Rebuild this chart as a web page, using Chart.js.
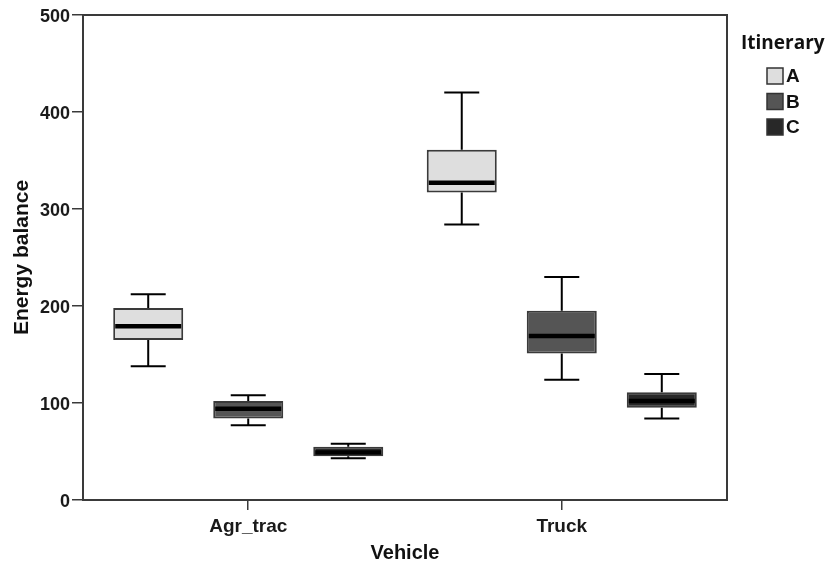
<!DOCTYPE html>
<html>
<head>
<meta charset="utf-8">
<script src="https://cdn.jsdelivr.net/npm/chart.js@4/dist/chart.umd.min.js"></script>
<style>
  html, body { margin: 0; padding: 0; background: #ffffff; }
  #wrap { width: 830px; height: 568px; position: relative; }
</style>
</head>
<body>
<div id="wrap"><canvas id="chart"></canvas></div>
<script>
// Categories and groups
const vehicles = ['Agr_trac', 'Truck'];
const itineraries = ['A', 'B', 'C'];

// Five-number summaries of energy balance, one value per vehicle
const minA = [138, 284];
const q1A  = [165, 317];
const medA = [179, 327];
const q3A  = [198, 361];
const maxA = [212, 420];

const minB = [77, 124];
const q1B  = [84, 151];
const medB = [94, 169];
const q3B  = [102, 195];
const maxB = [108, 230];

const minC = [43, 84];
const q1C  = [45, 95];
const medC = [49, 102];
const q3C  = [55, 111];
const maxC = [58, 130];

const yTicks = [0, 100, 200, 300, 400, 500];

const mins = [minA, minB, minC];
const q1s  = [q1A, q1B, q1C];
const meds = [medA, medB, medC];
const q3s  = [q3A, q3B, q3C];
const maxs = [maxA, maxB, maxC];

const fills = ['#dedede', '#555555', '#282828'];
const FONT = "'Liberation Sans', Arial, sans-serif";

// Boxes are floating bars from Q1 to Q3
const datasets = itineraries.map((name, k) => ({
  label: name,
  data: vehicles.map((v, i) => ({ x: i, y: [q1s[k][i], q3s[k][i]] })),
  backgroundColor: fills[k],
  borderColor: '#3a3a3a',
  borderWidth: 2,
  borderSkipped: false,
  categoryPercentage: 0.957,
  barPercentage: 0.7
}));

// Whiskers, caps and median lines drawn on top of the boxes
const whiskerPlugin = {
  id: 'whiskers',
  afterDatasetsDraw(chart) {
    const ctx = chart.ctx;
    const ys = chart.scales.y;
    ctx.save();
    chart.data.datasets.forEach((ds, k) => {
      const meta = chart.getDatasetMeta(k);
      meta.data.forEach((bar, i) => {
        const { x, width } = bar.getProps(['x', 'width'], true);
        const pMin = ys.getPixelForValue(mins[k][i]);
        const pQ1 = ys.getPixelForValue(q1s[k][i]);
        const pMed = ys.getPixelForValue(meds[k][i]);
        const pQ3 = ys.getPixelForValue(q3s[k][i]);
        const pMax = ys.getPixelForValue(maxs[k][i]);
        const cap = width / 4;
        ctx.strokeStyle = '#000000';
        ctx.lineWidth = 2;
        ctx.beginPath();
        ctx.moveTo(x, pQ3); ctx.lineTo(x, pMax);
        ctx.moveTo(x - cap, pMax); ctx.lineTo(x + cap, pMax);
        ctx.moveTo(x, pQ1); ctx.lineTo(x, pMin);
        ctx.moveTo(x - cap, pMin); ctx.lineTo(x + cap, pMin);
        ctx.stroke();
        ctx.lineWidth = 4.5;
        ctx.beginPath();
        ctx.moveTo(x - width / 2 + 2, pMed); ctx.lineTo(x + width / 2 - 2, pMed);
        ctx.stroke();
      });
    });
    ctx.restore();
  }
};

// Frame around the plot area and the legend on the right
const framePlugin = {
  id: 'frameAndLegend',
  afterDraw(chart) {
    const ctx = chart.ctx;
    const a = chart.chartArea;
    ctx.save();
    ctx.strokeStyle = '#3a3a3a';
    ctx.lineWidth = 2;
    ctx.strokeRect(a.left, a.top, a.right - a.left, a.bottom - a.top);

    ctx.fillStyle = '#111111';
    ctx.font = "bold 19px 'Open Sans', sans-serif";
    ctx.textBaseline = 'middle';
    ctx.textAlign = 'left';
    ctx.fillText('Itinerary', 741, 44);

    chart.data.datasets.forEach((ds, k) => {
      const top = 68 + k * 25.5;
      ctx.fillStyle = ds.backgroundColor;
      ctx.fillRect(767, top, 16, 16);
      ctx.strokeStyle = '#333333';
      ctx.lineWidth = 1.5;
      ctx.strokeRect(767, top, 16, 16);
      ctx.fillStyle = '#111111';
      ctx.font = 'bold 19px ' + FONT;
      ctx.fillText(ds.label, 786, top + 9);
    });
    ctx.restore();
  }
};

new Chart(document.getElementById('chart'), {
  type: 'bar',
  data: { datasets },
  options: {
    responsive: true,
    maintainAspectRatio: false,
    animation: false,
    layout: { padding: { top: 15, right: 103, left: 0, bottom: 0 } },
    plugins: {
      legend: { display: false },
      tooltip: { enabled: false }
    },
    scales: {
      x: {
        type: 'linear',
        offset: false,
        min: -0.527,
        max: 1.527,
        afterBuildTicks: s => { s.ticks = vehicles.map((v, i) => ({ value: i })); },
        afterFit: s => { s.height = 68; },
        ticks: {
          callback: v => vehicles[v],
          font: { family: FONT, size: 19, weight: 'bold' },
          color: '#1a1a1a',
          padding: 5,
          maxRotation: 0,
          autoSkip: false
        },
        grid: { offset: false, drawOnChartArea: false, drawTicks: true, tickLength: 10, color: '#3a3a3a', lineWidth: 1.5 },
        border: { display: true, color: '#3a3a3a', width: 2 },
        title: {
          display: true,
          text: 'Vehicle',
          font: { family: FONT, size: 20, weight: 'bold' },
          color: '#111111',
          padding: { top: 0, bottom: 3 }
        }
      },
      y: {
        min: 0,
        max: 500,
        afterBuildTicks: s => { s.ticks = yTicks.map(v => ({ value: v })); },
        afterFit: s => { s.width = 83; },
        ticks: {
          font: { family: FONT, size: 18, weight: 'bold' },
          color: '#1a1a1a',
          padding: 2,
          labelOffset: 2
        },
        grid: { drawOnChartArea: false, drawTicks: true, tickLength: 11, color: '#3a3a3a', lineWidth: 1.5 },
        border: { display: true, color: '#3a3a3a', width: 2 },
        title: {
          display: true,
          text: 'Energy balance',
          font: { family: FONT, size: 21, weight: 'bold' },
          color: '#111111',
          padding: { top: 10, bottom: 0 }
        }
      }
    }
  },
  plugins: [whiskerPlugin, framePlugin]
});
</script>
</body>
</html>
